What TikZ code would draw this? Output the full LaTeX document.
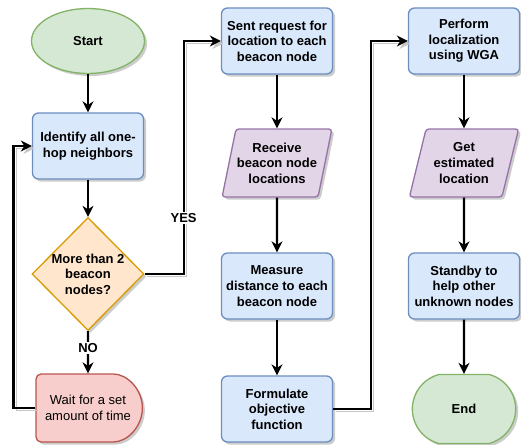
\documentclass[tikz,border=0pt]{standalone}
\usepackage{fontspec}
\setmainfont{Liberation Sans}
\usetikzlibrary{shapes.geometric,shapes.misc,arrows.meta,shadows}

\definecolor{termfill}{HTML}{D5E8D4}
\definecolor{termline}{HTML}{82B366}
\definecolor{procfill}{HTML}{DAE8FC}
\definecolor{procline}{HTML}{6C8EBF}
\definecolor{decfill}{HTML}{FFE6CC}
\definecolor{decline}{HTML}{D79B00}
\definecolor{waitfill}{HTML}{F8CECC}
\definecolor{waitline}{HTML}{B85450}
\definecolor{iofill}{HTML}{E1D5E7}
\definecolor{ioline}{HTML}{9673A6}

\begin{document}
\begin{tikzpicture}[x=1pt,y=-1pt,node distance=123pt,
  font=\fontsize{13}{15.6}\selectfont\bfseries,
  boxshadow/.style={drop shadow={shadow xshift=2.5pt,shadow yshift=-2.5pt,opacity=0.2,fill=black}},
  terminal/.style={ellipse,draw=termline,fill=termfill,line width=1.3pt,
    minimum width=113pt,minimum height=65pt,boxshadow},
  ending/.style={rounded rectangle,rounded rectangle arc length=150,draw=termline,fill=termfill,
    line width=1.3pt,minimum width=110pt,minimum height=69pt,boxshadow},
  process/.style={rectangle,rounded corners=6pt,draw=procline,fill=procfill,line width=1.3pt,
    minimum width=111pt,minimum height=66pt,align=center,boxshadow},
  inout/.style={trapezium,trapezium left angle=72,trapezium right angle=108,trapezium stretches=true,
    rounded corners=3pt,draw=ioline,fill=iofill,line width=1.3pt,inner sep=1pt,
    minimum width=110pt,minimum height=68pt,align=center,boxshadow},
  decision/.style={diamond,aspect=1,draw=decline,fill=decfill,line width=1.3pt,inner sep=-1pt,
    minimum width=112pt,minimum height=113pt,align=center,boxshadow},
  delay/.style={rounded rectangle,rounded rectangle left arc=none,rounded corners=5pt,draw=waitline,fill=waitfill,
    line width=1.3pt,minimum width=113pt,minimum height=68pt,align=center,font=\fontsize{13}{15.6}\selectfont,boxshadow},
  flow/.style={draw,line width=2.3pt,-{Stealth[length=11pt,width=11pt,inset=3.5pt]},
    preaction={draw=black!22,transform canvas={shift={(2.5pt,-2.5pt)}}}},
  tag/.style={fill=white,inner sep=1.5pt}]

  \useasboundingbox (0,0) rectangle (521,444);

  % first column
  \node[terminal] (start) at (88,41) {Start};
  \node[process] (identify) [below of=start, node distance=105pt] {Identify all one-\\hop neighbors};
  \node[decision] (check) [below of=identify, node distance=128pt] {More than 2\\beacon\\nodes?};
  \node[delay] (wait) [below of=check, node distance=134pt] {Wait for a set\\amount of time};

  % second column
  \node[process] (request) [right of=start, node distance=189pt] {Sent request for\\location to each\\beacon node};
  \node[inout] (receive) [below of=request, node distance=122pt] {Receive\\beacon node\\locations};
  \node[process] (measure) [below of=receive] {Measure\\distance to each\\beacon node};
  \node[process] (formulate) [below of=measure] {Formulate\\objective\\function};

  % third column
  \node[process] (perform) [right of=request, node distance=187pt] {Perform\\localization\\using WGA};
  \node[inout] (estimate) [below of=perform, node distance=122pt] {Get\\estimated\\location};
  \node[process] (standby) [below of=estimate] {Standby to\\help other\\unknown nodes};
  \node[ending] (finish) [below of=standby] {End};

  \path[flow]
    (start) edge (identify)
    (identify) edge (check)
    (check) edge node[tag, pos=0.4] {NO} (wait)
    (request) edge (receive)
    (receive) edge (measure)
    (measure) edge (formulate)
    (perform) edge (estimate)
    (estimate) edge (standby)
    (standby) edge (finish);

  \draw[flow] (wait.west) -- ++(-22pt,0) |- (identify.west);
  \draw[flow] (check.east) -- ++(39pt,0) |- node[tag, pos=0.12] {YES} (request.west);
  \draw[flow] (formulate.east) -- ++(38pt,0) |- (perform.west);
\end{tikzpicture}
\end{document}
